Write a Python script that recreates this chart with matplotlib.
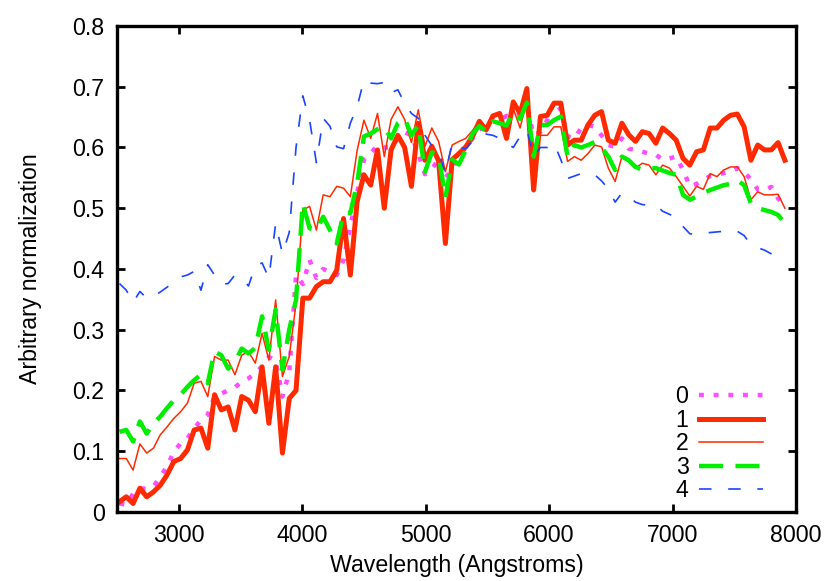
import numpy as np
import matplotlib
matplotlib.use("Agg")
import matplotlib.pyplot as plt

plt.rcParams['font.family'] = ['Liberation Sans', 'DejaVu Sans']

# wavelength grid of the spectra (Angstroms), 55 A steps
wavelength = np.arange(2520, 7911, 55)

spec0 = [0.014, 0.012, 0.030, 0.039, 0.038, 0.042, 0.058, 0.075, 0.099, 0.113,
         0.121, 0.138, 0.151, 0.160, 0.190, 0.195, 0.200, 0.205, 0.215, 0.220,
         0.228, 0.240, 0.255, 0.250, 0.190, 0.230, 0.390, 0.375, 0.415, 0.385,
         0.400, 0.395, 0.390, 0.415, 0.470, 0.525, 0.580, 0.590, 0.604, 0.600,
         0.600, 0.615, 0.625, 0.620, 0.590, 0.556, 0.565, 0.580, 0.550, 0.565,
         0.585, 0.600, 0.615, 0.630, 0.634, 0.648, 0.645, 0.652, 0.650, 0.655,
         0.665, 0.620, 0.626, 0.645, 0.675, 0.662, 0.618, 0.615, 0.632, 0.637,
         0.634, 0.620, 0.604, 0.601, 0.615, 0.598, 0.596, 0.593, 0.590, 0.588,
         0.580, 0.582, 0.585, 0.563, 0.536, 0.540, 0.547, 0.553, 0.555, 0.558,
         0.560, 0.566, 0.560, 0.547, 0.531, 0.530, 0.535, 0.516, 0.505]

spec1 = [0.017, 0.025, 0.014, 0.039, 0.025, 0.033, 0.044, 0.061, 0.083, 0.088,
         0.102, 0.135, 0.138, 0.105, 0.193, 0.168, 0.173, 0.135, 0.190, 0.184,
         0.165, 0.239, 0.146, 0.239, 0.097, 0.187, 0.200, 0.352, 0.352, 0.371,
         0.379, 0.379, 0.398, 0.483, 0.390, 0.511, 0.555, 0.538, 0.596, 0.500,
         0.596, 0.620, 0.600, 0.536, 0.640, 0.579, 0.602, 0.578, 0.442, 0.580,
         0.590, 0.601, 0.618, 0.643, 0.629, 0.652, 0.656, 0.615, 0.675, 0.656,
         0.697, 0.530, 0.651, 0.653, 0.673, 0.673, 0.604, 0.612, 0.612, 0.637,
         0.653, 0.659, 0.612, 0.607, 0.640, 0.621, 0.610, 0.626, 0.623, 0.607,
         0.632, 0.623, 0.612, 0.582, 0.571, 0.593, 0.596, 0.632, 0.632, 0.645,
         0.653, 0.655, 0.634, 0.579, 0.604, 0.596, 0.596, 0.608, 0.579]

spec2 = [0.088, 0.088, 0.069, 0.112, 0.097, 0.105, 0.127, 0.140, 0.154, 0.165,
         0.179, 0.212, 0.215, 0.190, 0.256, 0.250, 0.250, 0.226, 0.258, 0.264,
         0.245, 0.294, 0.250, 0.349, 0.223, 0.256, 0.343, 0.497, 0.503, 0.464,
         0.522, 0.519, 0.536, 0.533, 0.519, 0.595, 0.645, 0.615, 0.656, 0.585,
         0.646, 0.667, 0.646, 0.608, 0.662, 0.602, 0.632, 0.610, 0.560, 0.604,
         0.610, 0.615, 0.628, 0.643, 0.626, 0.653, 0.653, 0.629, 0.664, 0.632,
         0.678, 0.600, 0.620, 0.620, 0.634, 0.634, 0.577, 0.585, 0.579, 0.590,
         0.604, 0.601, 0.566, 0.544, 0.585, 0.579, 0.566, 0.574, 0.571, 0.555,
         0.571, 0.566, 0.552, 0.536, 0.520, 0.536, 0.531, 0.557, 0.552, 0.563,
         0.568, 0.568, 0.552, 0.514, 0.527, 0.522, 0.522, 0.523, 0.500]

spec3 = [0.132, 0.135, 0.116, 0.149, 0.129, 0.146, 0.157, 0.171, 0.184, 0.193,
         0.206, 0.217, 0.226, 0.212, 0.264, 0.258, 0.236, 0.247, 0.269, 0.261,
         0.270, 0.322, 0.267, 0.333, 0.234, 0.300, 0.349, 0.508, 0.467, 0.464,
         0.486, 0.464, 0.442, 0.492, 0.492, 0.541, 0.618, 0.623, 0.630, 0.634,
         0.615, 0.640, 0.648, 0.620, 0.637, 0.560, 0.592, 0.588, 0.517, 0.580,
         0.572, 0.596, 0.623, 0.635, 0.627, 0.643, 0.640, 0.636, 0.658, 0.647,
         0.674, 0.585, 0.637, 0.637, 0.645, 0.651, 0.585, 0.604, 0.600, 0.604,
         0.609, 0.600, 0.585, 0.563, 0.585, 0.579, 0.568, 0.563, 0.565, 0.566,
         0.562, 0.558, 0.555, 0.522, 0.514, 0.519, 0.525, 0.530, 0.534, 0.538,
         0.540, 0.546, 0.538, 0.508, 0.500, 0.497, 0.494, 0.489, 0.475]

spec4 = [0.376, 0.365, 0.345, 0.363, 0.352, 0.355, 0.362, 0.370, 0.378, 0.387,
         0.390, 0.396, 0.365, 0.407, 0.390, 0.375, 0.376, 0.390, 0.385, 0.372,
         0.405, 0.410, 0.385, 0.475, 0.425, 0.460, 0.600, 0.685, 0.645, 0.575,
         0.648, 0.635, 0.601, 0.598, 0.640, 0.667, 0.711, 0.706, 0.705, 0.707,
         0.690, 0.695, 0.672, 0.656, 0.648, 0.620, 0.603, 0.594, 0.557, 0.608,
         0.600, 0.598, 0.610, 0.618, 0.622, 0.620, 0.615, 0.607, 0.600, 0.618,
         0.629, 0.585, 0.600, 0.600, 0.607, 0.580, 0.549, 0.553, 0.557, 0.556,
         0.555, 0.545, 0.532, 0.510, 0.525, 0.519, 0.510, 0.506, 0.505, 0.505,
         0.495, 0.490, 0.485, 0.470, 0.458, 0.457, 0.459, 0.460, 0.461, 0.462,
         0.463, 0.462, 0.455, 0.440, 0.435, 0.431, 0.425, 0.418, 0.415]

labels = ['0', '1', '2', '3', '4']
xticks = [3000, 4000, 5000, 6000, 7000, 8000]
yticks = [0, 0.1, 0.2, 0.3, 0.4, 0.5, 0.6, 0.7, 0.8]
ytick_labels = ['0', '0.1', '0.2', '0.3', '0.4', '0.5', '0.6', '0.7', '0.8']

fs = 16.7

fig = plt.figure(figsize=(8.3, 5.81), dpi=100)
ax = fig.add_axes([0.141, 0.1188, 0.818, 0.8365])

ax.plot(wavelength, spec0, color='#ff4dff', lw=3.2, dashes=(1.1, 2.2), label=labels[0])
ax.plot(wavelength, spec1, color='#ff2a00', lw=3.6, label=labels[1])
ax.plot(wavelength, spec2, color='#ff2a00', lw=1.1, label=labels[2])
ax.plot(wavelength, spec3, color='#00ee00', lw=3.2, dashes=(5.4, 2.8), label=labels[3])
ax.plot(wavelength, spec4, color='#1a44ff', lw=1.2, dashes=(7.5, 10), label=labels[4])

ax.set_xlim(2500, 8000)
ax.set_ylim(0, 0.8)
ax.set_xticks(xticks)
ax.set_yticks(yticks)
ax.set_yticklabels(ytick_labels)
ax.tick_params(direction='in', length=6, width=2, labelsize=fs,
               top=True, right=True, pad=9)
for s in ax.spines.values():
    s.set_linewidth(2.4)

ax.set_xlabel('Wavelength (Angstroms)', fontsize=fs, labelpad=5)
ax.set_ylabel('Arbitrary normalization', fontsize=fs, labelpad=22)

ax.legend(loc='lower right', bbox_to_anchor=(0.951, 0.02), frameon=False,
          markerfirst=False, handlelength=2.75, handletextpad=0.45,
          labelspacing=0.02, borderpad=0, borderaxespad=0, fontsize=fs)

fig.savefig('out.png', dpi=100)
